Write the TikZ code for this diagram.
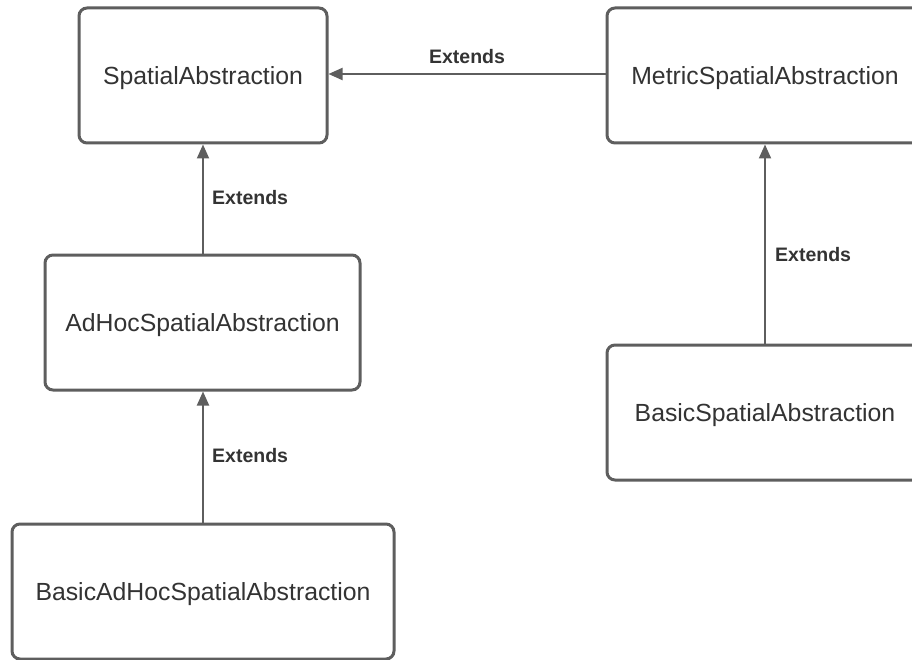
\documentclass[tikz,border=0pt]{standalone}
\usepackage{fontspec}
\setmainfont{Liberation Sans}
\usetikzlibrary{arrows.meta}
\definecolor{edge}{HTML}{5E5E5E}
\definecolor{txt}{HTML}{333333}
\begin{document}
\begin{tikzpicture}[x=1pt,y=-1pt,
  box/.style={draw=edge,line width=3pt,rounded corners=8pt,fill=white,
    text=txt,font=\fontsize{24.8}{30}\selectfont,inner sep=0pt,text depth=-3pt},
  conn/.style={draw=edge,line width=2pt,-{Triangle[length=14pt,width=12pt]}},
  lbl/.style={text=txt,font=\bfseries\fontsize{19.5}{24}\selectfont,inner sep=0pt}]
\useasboundingbox (0,0) rectangle (912,660);
\clip (0,0) rectangle (912,660);
\node[box,minimum width=248pt,minimum height=135pt] (sa) at (203,75.5) {SpatialAbstraction};
\node[box,minimum width=316pt,minimum height=135pt] (msa) at (765,75.5) {MetricSpatialAbstraction};
\node[box,minimum width=315pt,minimum height=135pt] (ahsa) at (202.5,322.5) {AdHocSpatialAbstraction};
\node[box,minimum width=316pt,minimum height=135pt] (bsa) at (765,412.5) {BasicSpatialAbstraction};
\node[box,minimum width=382pt,minimum height=135pt] (bahsa) at (203,591.5) {BasicAdHocSpatialAbstraction};
\draw[conn] (msa.west |- 0,74) -- (sa.east |- 0,74) node[lbl,midway,above=9pt] {Extends};
\draw[conn] (ahsa.north -| 203,0) -- (sa.south -| 203,0);
\node[lbl,anchor=west] (l1) at (212,198) {Extends};
\draw[conn] (bahsa.north -| 203,0) -- (ahsa.south -| 203,0);
\node[lbl,anchor=west] (l2) at (212,456) {Extends};
\draw[conn] (bsa.north) -- (msa.south);
\node[lbl,anchor=west] (l3) at (775,255) {Extends};
\end{tikzpicture}
\end{document}
